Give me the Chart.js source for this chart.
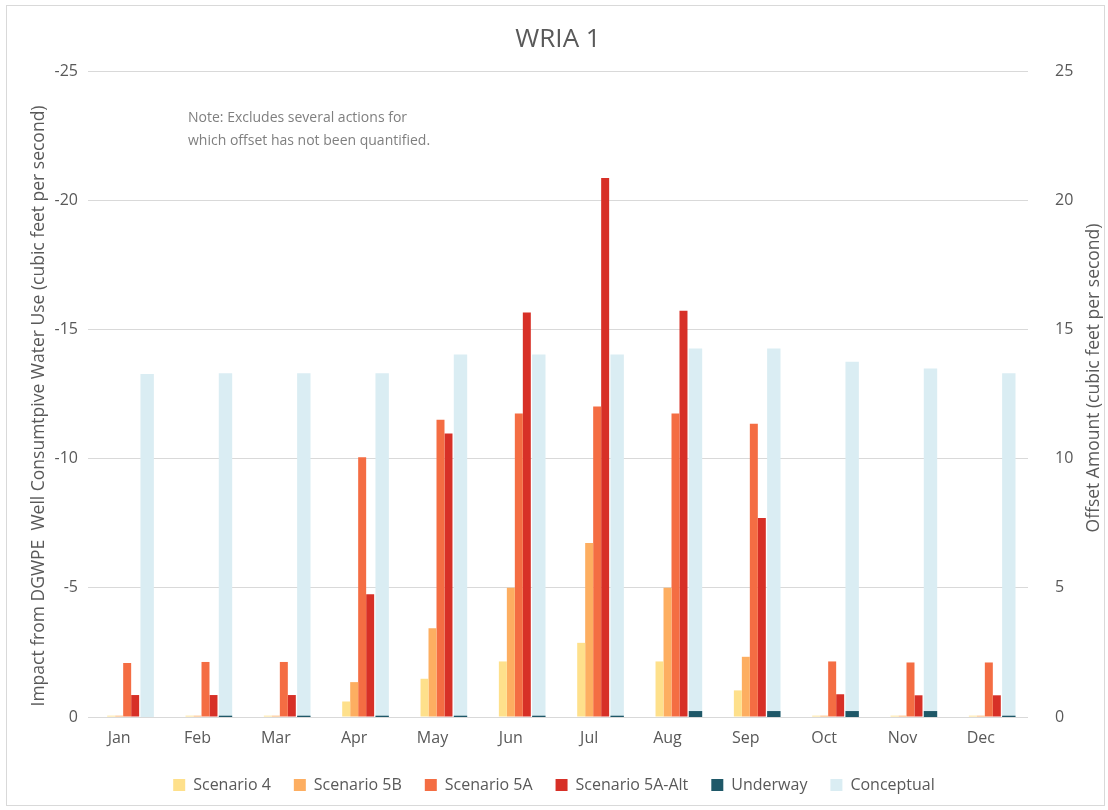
<!DOCTYPE html>
<html>
<head>
<meta charset="utf-8">
<script src="https://cdn.jsdelivr.net/npm/chart.js@4/dist/chart.umd.min.js"></script>
<style>
    html, body { margin: 0; padding: 0; background: #ffffff; }
    #wrap { width: 1108px; height: 810px; position: relative; }
</style>
</head>
<body>
<div id="wrap"><canvas id="chart" width="1108" height="810"></canvas></div>
<script>
// Month categories
const months = ["Jan", "Feb", "Mar", "Apr", "May", "Jun", "Jul", "Aug", "Sep", "Oct", "Nov", "Dec"];

// Impact series (left axis, cfs, negative = depletion)
const scenario4 = [-0.05, -0.05, -0.05, -0.6, -1.48, -2.15, -2.87, -2.15, -1.03, -0.05, -0.05, -0.05];
const scenario5B = [-0.05, -0.05, -0.05, -1.35, -3.43, -5.0, -6.73, -5.0, -2.33, -0.05, -0.05, -0.05];
const scenario5A = [-2.09, -2.13, -2.13, -10.05, -11.5, -11.75, -12.02, -11.75, -11.35, -2.15, -2.11, -2.11];
const scenario5AAlt = [-0.85, -0.85, -0.85, -4.75, -10.97, -15.65, -20.86, -15.72, -7.7, -0.88, -0.84, -0.84];

// Offset series (right axis, cfs)
const underway = [0, 0.05, 0.05, 0.05, 0.05, 0.05, 0.05, 0.23, 0.23, 0.23, 0.23, 0.05];
const conceptual = [13.27, 13.3, 13.3, 13.3, 14.03, 14.03, 14.03, 14.26, 14.26, 13.75, 13.49, 13.3];

// Axis ticks
const leftTicks = [-25, -20, -15, -10, -5, 0];
const rightTicks = [0, 5, 10, 15, 20, 25];

const textColor = "#595959";
const gridColor = "#d9d9d9";
const fontFamily = "'Open Sans', 'DejaVu Sans', sans-serif";

// Frame, note and rotated axis titles
const decorations = {
    id: "decorations",
    beforeDraw(chart) {
        const ctx = chart.ctx;
        ctx.save();
        ctx.fillStyle = "#ffffff";
        ctx.fillRect(0, 0, chart.width, chart.height);
        ctx.strokeStyle = "#d9d9d9";
        ctx.lineWidth = 1;
        ctx.strokeRect(6.5, 5.5, 1098, 800);
        ctx.restore();
    },
    afterDraw(chart) {
        const ctx = chart.ctx;
        const area = chart.chartArea;
        ctx.save();
        ctx.fillStyle = "#7f7f7f";
        ctx.font = "14px " + fontFamily;
        ctx.textBaseline = "middle";
        ctx.textAlign = "left";
        ctx.fillText("Note: Excludes several actions for", area.left + 100, 118);
        ctx.fillText("which offset has not been quantified.", area.left + 100, 141);

        ctx.fillStyle = textColor;
        ctx.font = "17.5px " + fontFamily;
        ctx.textAlign = "center";
        ctx.translate(39, 406);
        ctx.rotate(-Math.PI / 2);
        ctx.fillText("Impact from DGWPE  Well Consumtpive Water Use (cubic feet per second)", 0, 0);
        ctx.restore();

        ctx.save();
        ctx.fillStyle = textColor;
        ctx.font = "17.5px " + fontFamily;
        ctx.textAlign = "center";
        ctx.textBaseline = "middle";
        ctx.translate(1094, 378);
        ctx.rotate(-Math.PI / 2);
        ctx.fillText("Offset Amount (cubic feet per second)", 0, 0);
        ctx.restore();
    }
};

// Bar slot settings: four narrow impact bars, then the wider offset slot
const impactBar = { categoryPercentage: 0.51, barPercentage: 1, yAxisID: "y", borderWidth: 0 };
const offsetBar = { categoryPercentage: 0.638, barPercentage: 1.34, yAxisID: "y2", stack: "offset", borderWidth: 0 };

new Chart(document.getElementById("chart"), {
    type: "bar",
    data: {
        labels: months,
        datasets: [
            { label: "Scenario 4", data: scenario4, backgroundColor: "#fee08b", stack: "s4", ...impactBar },
            { label: "Scenario 5B", data: scenario5B, backgroundColor: "#fdae61", stack: "s5b", ...impactBar },
            { label: "Scenario 5A", data: scenario5A, backgroundColor: "#f46d43", stack: "s5a", ...impactBar },
            { label: "Scenario 5A-Alt", data: scenario5AAlt, backgroundColor: "#d73027", stack: "s5aalt", ...impactBar },
            { label: "Underway", data: underway, backgroundColor: "#1f5868", ...offsetBar },
            { label: "Conceptual", data: conceptual, backgroundColor: "#daedf3", ...offsetBar },
        ],
    },
    options: {
        responsive: false,
        animation: false,
        layout: { padding: { left: 0, right: 0, top: 0, bottom: 7 } },
        plugins: {
            tooltip: { enabled: false },
            title: {
                display: true,
                text: "WRIA 1",
                fullSize: false,
                color: textColor,
                font: { family: fontFamily, size: 26, weight: "normal" },
                padding: { top: 24.4, bottom: 15.4 },
            },
            legend: {
                position: "bottom",
                labels: {
                    color: textColor,
                    font: { family: fontFamily, size: 16 },
                    boxWidth: 12,
                    boxHeight: 12,
                    padding: 23,
                },
            },
        },
        scales: {
            x: {
                grid: { display: false },
                border: { display: false },
                ticks: { color: textColor, font: { family: fontFamily, size: 16 }, padding: 4, labelOffset: -8, maxRotation: 0 },
                afterFit: (scale) => { scale.height = 37; },
            },
            y: {
                position: "left",
                reverse: true,
                stacked: false,
                min: leftTicks[0],
                max: leftTicks[leftTicks.length - 1],
                afterBuildTicks: (scale) => { scale.ticks = leftTicks.map((v) => ({ value: v })); },
                grid: { color: gridColor, drawTicks: false },
                border: { display: false },
                ticks: { color: textColor, font: { family: fontFamily, size: 16 }, padding: 10 },
                afterFit: (scale) => { scale.width = 88; },
            },
            y2: {
                position: "right",
                stacked: false,
                min: rightTicks[0],
                max: rightTicks[rightTicks.length - 1],
                afterBuildTicks: (scale) => { scale.ticks = rightTicks.map((v) => ({ value: v })); },
                grid: { display: false, drawTicks: false },
                border: { display: false },
                ticks: { color: textColor, font: { family: fontFamily, size: 16 }, padding: 27 },
                afterFit: (scale) => { scale.width = 80; },
            },
        },
    },
    plugins: [decorations],
});
</script>
</body>
</html>
